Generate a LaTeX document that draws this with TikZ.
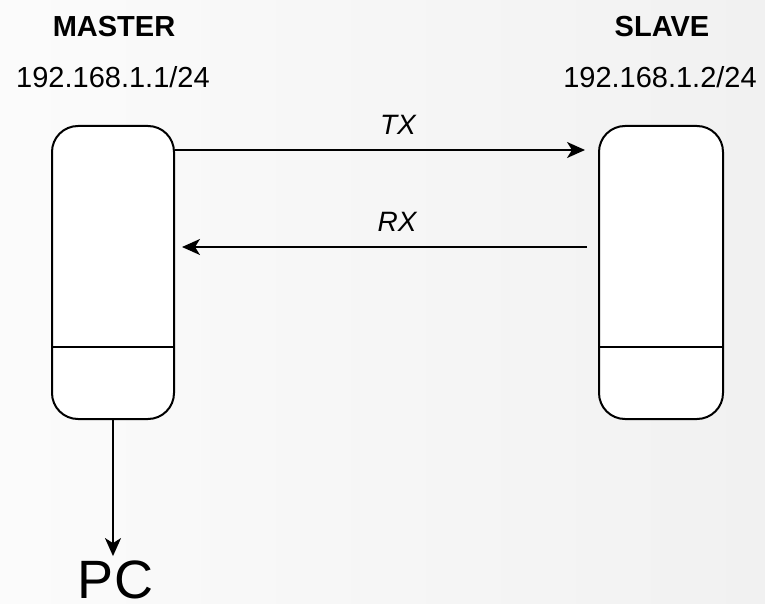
\documentclass[tikz,border=0pt]{standalone}
\usepackage{fontspec}
\setmainfont{Liberation Sans}
\usetikzlibrary{arrows.meta}
\tikzset{
  devbox/.style={draw=black, line width=2pt, fill=white, rounded corners=26pt,
    minimum width=122pt, minimum height=293pt, inner sep=0pt, anchor=north west},
  arr/.style={line width=2pt, -{Stealth[length=18pt,width=16pt,inset=5pt]}},
  title/.style={font=\fontsize{29}{34}\selectfont\bfseries, inner sep=0pt},
  ip/.style={font=\fontsize{29}{34}\selectfont, inner sep=0pt},
  lab/.style={font=\fontsize{28}{33}\selectfont\itshape, inner sep=0pt},
}
\begin{document}
\begin{tikzpicture}[x=1pt,y=-1pt]
\shade[left color=gray!3, right color=gray!11] (0,0) rectangle (765,604);
\useasboundingbox (0,0) rectangle (765,604);
% devices
\node[devbox] (master) at (51,125) {};
\node[devbox, minimum width=124pt] (slave) at (598,125) {};
\draw[line width=2pt] ([yshift=73pt]master.south west) -- ([yshift=73pt]master.south east);
\draw[line width=2pt] ([yshift=73pt]slave.south west) -- ([yshift=73pt]slave.south east);
% titles
\node[title] (mt) at (114,27) {MASTER};
\node[ip] (mip) at (113,77) {192.168.1.1/24};
\node[title] (st) at (662,27) {SLAVE};
\node[ip] (sip) at (660,77) {192.168.1.2/24};
% links
\draw[arr] (master.east |- 0,150) -- ([xshift=-13pt]slave.west |- 0,150);
\node[lab] (tx) at (398,125) {TX};
\draw[arr] ([xshift=-11pt]slave.west |- 0,247) -- ([xshift=7pt]master.east |- 0,247);
\node[lab] (rx) at (397,222) {RX};
% PC
\node[font=\fontsize{54}{60}\selectfont, inner sep=0pt, anchor=base] (pc) at (115.5,598) {PC};
\draw[arr] (master.south) -- ([yshift=4pt]pc.north -| master.south);
\end{tikzpicture}
\end{document}
